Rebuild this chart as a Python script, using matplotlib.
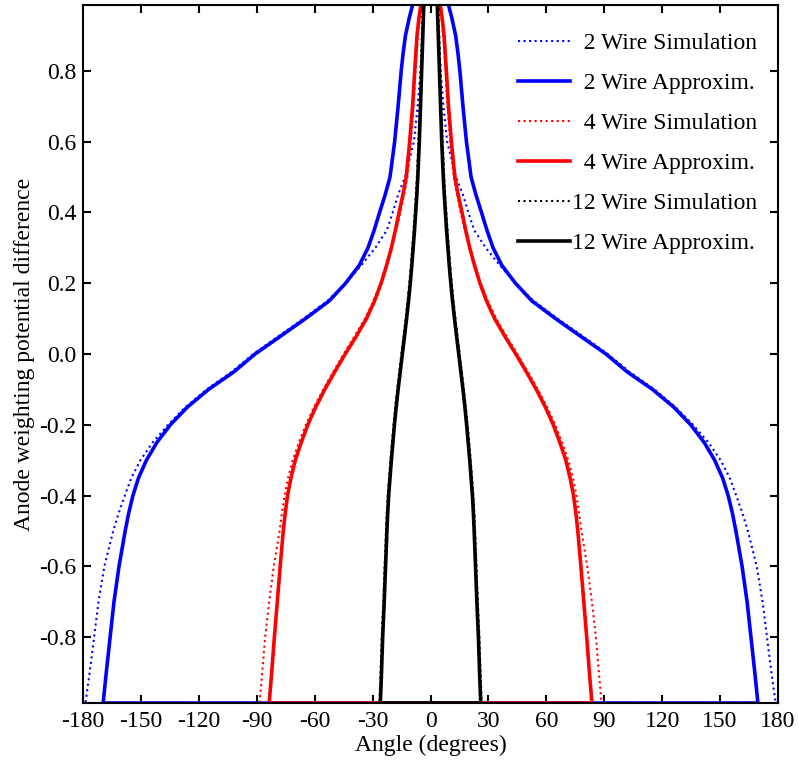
import numpy as np
import matplotlib
matplotlib.use("Agg")
import matplotlib.pyplot as plt

plt.rcParams['font.family'] = ['Liberation Serif', 'DejaVu Serif']
plt.rcParams['axes.unicode_minus'] = False

# potential difference levels (shared by all curves)
pot = [0.986, 0.95, 0.9, 0.85, 0.8, 0.7, 0.6, 0.5, 0.45, 0.4, 0.35, 0.3, 0.25,
       0.2, 0.15, 0.1, 0.05, 0.0, -0.05, -0.1, -0.15, -0.2, -0.25, -0.3,
       -0.35, -0.4, -0.45, -0.5, -0.6, -0.7, -0.8, -0.9, -0.986]

# angle (degrees) of the positive branch at each level; curves are symmetric about 0
wire2_sim = [3.8, 4.0, 4.3, 4.7, 5.2, 6.7, 8.6, 13.2, 16.8, 19.6, 22.6, 28.6, 36.0,
             44.0, 53.5, 65.8, 79.0, 91.8, 103.0, 116.0, 127.0, 136.0, 144.0, 150.3,
             155.0, 158.4, 161.6, 164.4, 169.0, 172.0, 174.3, 176.6, 178.8]
wire2_approx = [9.3, 11.0, 13.0, 14.2, 15.2, 16.8, 18.6, 21.0, 23.5, 26.4, 29.2, 32.4, 37.0,
                44.0, 52.5, 64.8, 77.8, 90.9, 101.8, 115.0, 126.0, 134.8, 141.8, 147.2,
                151.3, 154.2, 156.4, 158.2, 161.4, 164.0, 166.0, 168.0, 169.6]
wire4_sim = [4.8, 5.6, 6.6, 7.2, 7.8, 8.8, 10.2, 12.0, 13.8, 15.6, 17.8, 20.2, 23.0,
             26.0, 29.6, 34.0, 39.4, 45.0, 50.4, 55.6, 60.4, 64.6, 68.2, 71.4,
             73.8, 75.6, 77.0, 78.2, 81.2, 83.6, 85.7, 87.2, 88.6]
wire4_approx = [5.0, 6.0, 7.0, 7.6, 8.2, 9.3, 10.8, 12.6, 14.3, 16.3, 18.2, 20.3, 22.8,
                25.6, 29.0, 33.2, 38.5, 44.2, 49.6, 54.8, 59.5, 63.6, 67.0, 70.1,
                72.3, 74.1, 75.3, 76.3, 77.9, 79.4, 80.9, 82.3, 83.6]
wire12_sim = [4.0, 4.2, 4.5, 4.8, 5.1, 5.7, 6.3, 7.1, 7.6, 8.2, 8.8, 9.5, 10.2,
              11.0, 11.9, 12.9, 14.0, 15.1, 16.2, 17.3, 18.3, 19.2, 20.0, 20.8,
              21.5, 22.2, 22.7, 23.1, 23.8, 24.5, 25.3, 25.9, 26.5]
wire12_approx = [3.5, 3.7, 4.0, 4.3, 4.6, 5.2, 5.8, 6.6, 7.1, 7.7, 8.3, 9.0, 9.7,
                 10.5, 11.4, 12.4, 13.5, 14.6, 15.7, 16.8, 17.8, 18.7, 19.5, 20.3,
                 21.0, 21.7, 22.2, 22.6, 23.3, 24.0, 24.8, 25.4, 26.0]

labels = ['  2 Wire Simulation', '  2 Wire Approxim.',
          '  4 Wire Simulation', '  4 Wire Approxim.',
          '12 Wire Simulation', '12 Wire Approxim.']

xticks = [-180, -150, -120, -90, -60, -30, 0, 30, 60, 90, 120, 150, 180]
yticks = [-0.8, -0.6, -0.4, -0.2, 0.0, 0.2, 0.4, 0.6, 0.8]
ytick_labels = ['-0.8', '-0.6', '-0.4', '-0.2', '0.0', '0.2', '0.4', '0.6', '0.8']


def full_curve(angles):
    a = np.array(angles)
    p = np.array(pot)
    x = np.concatenate([-a, a[::-1]])
    y = np.concatenate([p, p[::-1]])
    return x, y


fs = 17
fig = plt.figure(figsize=(7.99, 7.63), dpi=100)
ax = fig.add_axes([0.104, 0.0786, 0.8697, 0.9148])

series = [(wire2_sim, 'blue', ':', 1.5), (wire2_approx, 'blue', '-', 2.6),
          (wire4_sim, 'red', ':', 1.5), (wire4_approx, 'red', '-', 2.6),
          (wire12_sim, 'black', ':', 1.5), (wire12_approx, 'black', '-', 2.6)]

for (angles, color, ls, lw), lab in zip(series, labels):
    x, y = full_curve(angles)
    ax.plot(x, y, color=color, linestyle=ls, linewidth=lw, label=lab)

ax.set_xlim(-180, 180)
ax.set_ylim(-0.986, 0.986)
ax.set_xticks(xticks)
ax.set_yticks(yticks)
ax.set_yticklabels(ytick_labels)
ax.tick_params(direction='in', length=6, width=1.5, top=True, right=True,
               labelsize=fs)
ax.tick_params(axis='x', pad=6)
ax.tick_params(axis='y', pad=5)
for s in ax.spines.values():
    s.set_linewidth(1.5)

ax.set_xlabel("Angle (degrees)", fontsize=fs, labelpad=2)
ax.set_ylabel("Anode weighting potential difference", fontsize=fs, labelpad=3)

ax.legend(loc='upper right', bbox_to_anchor=(0.984, 0.974), borderaxespad=0,
          frameon=False, fontsize=fs, handlelength=2.2, handletextpad=0.1,
          labelspacing=0.78)

fig.savefig("out.png", dpi=100)
